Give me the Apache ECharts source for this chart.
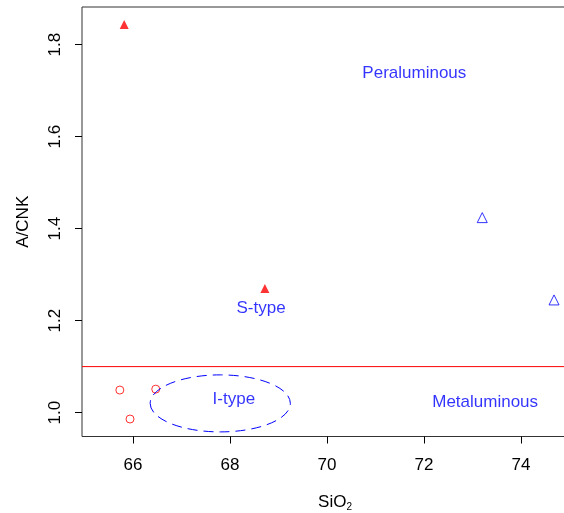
<!DOCTYPE html>
<html>
<head>
<meta charset="utf-8">
<script src="https://cdn.jsdelivr.net/npm/echarts@6/dist/echarts.min.js"></script>
<style>html,body{margin:0;padding:0;background:#fff}#c{width:564px;height:513px}</style>
</head>
<body>
<div id="c"></div>
<script>
// Data
var xTicks = [66, 68, 70, 72, 74];
var yTicks = [1.0, 1.2, 1.4, 1.6, 1.8];
var sTypeFilled = [[65.82, 1.844], [68.72, 1.27]];
var openTriangles = [[73.2, 1.424], [74.68, 1.245]];
var openCircles = [[65.73, 1.049], [66.47, 1.051], [65.94, 0.986]];
var boundaryAcnk = 1.1;
// ellipse: centerX, centerY, radiusX, radiusY
var iTypeEllipse = [[67.8, 1.02, 1.445, 0.062]];
var regionLabels = [
  {name: 'Peraluminous', value: [71.8, 1.738]},
  {name: 'Metaluminous', value: [73.26, 1.022]},
  {name: 'S-type', value: [68.64, 1.227]},
  {name: 'I-type', value: [68.08, 1.029]}
];

var X_MIN = 64.95, X_MAX = 75.38;
var FONT = 'Liberation Sans, Arial, sans-serif';
var chart = echarts.init(document.getElementById('c'), null, {renderer: 'canvas'});
chart.setOption({
  animation: false,
  backgroundColor: '#fff',
  grid: {left: 82, top: 7, bottom: 76.5, right: -24, outerBoundsMode: 'none', containLabel: false,
    show: true, borderColor: '#333', borderWidth: 1, backgroundColor: 'transparent'},
  xAxis: {
    type: 'value', min: X_MIN, max: X_MAX,
    name: 'SiO{sub|2}', nameLocation: 'middle', nameGap: 56,
    nameTextStyle: {fontFamily: FONT, fontSize: 17, color: '#000',
      rich: {sub: {fontFamily: FONT, fontSize: 10, color: '#000', padding: [10, 0, 0, 0]}}},
    axisLine: {show: false},
    splitLine: {show: false},
    axisTick: {show: true, inside: false, length: 7, lineStyle: {color: '#000'}, customValues: xTicks},
    axisLabel: {fontFamily: FONT, fontSize: 17, color: '#000', margin: 20, customValues: xTicks,
      formatter: function (v) { return String(v); }}
  },
  yAxis: {
    type: 'value', min: 0.948, max: 1.882,
    name: 'A/CNK', nameLocation: 'middle', nameGap: 50, nameRotate: 90,
    nameTextStyle: {fontFamily: FONT, fontSize: 17, color: '#000'},
    axisLine: {show: false},
    splitLine: {show: false},
    axisTick: {show: true, inside: false, length: 7, lineStyle: {color: '#000'}, customValues: yTicks},
    axisLabel: {fontFamily: FONT, fontSize: 17, color: '#000', margin: 18, rotate: 90, customValues: yTicks,
      formatter: function (v) { return v.toFixed(1); }}
  },
  series: [
    {
      type: 'line', data: [[X_MIN, boundaryAcnk], [X_MAX, boundaryAcnk]], silent: true,
      symbol: 'none', lineStyle: {color: '#ff0000', width: 1}, itemStyle: {color: '#ff0000'}
    },
    {
      type: 'custom', data: iTypeEllipse, silent: true, z: 3,
      renderItem: function (params, api) {
        var cx = api.value(0), cy = api.value(1), rx = api.value(2), ry = api.value(3);
        var c = api.coord([cx, cy]);
        var px = api.coord([cx + rx, cy]);
        var py = api.coord([cx, cy + ry]);
        var a = Math.abs(px[0] - c[0]), b = Math.abs(c[1] - py[1]);
        var d = 'M' + (c[0] - a) + ' ' + c[1] +
          ' A' + a + ' ' + b + ' 0 1 0 ' + (c[0] + a) + ' ' + c[1] +
          ' A' + a + ' ' + b + ' 0 1 0 ' + (c[0] - a) + ' ' + c[1] + ' Z';
        return {type: 'path', shape: {pathData: d},
          style: {fill: 'none', stroke: '#0000ff', lineWidth: 1, lineDash: [10, 6]}};
      }
    },
    {
      type: 'scatter', data: sTypeFilled, symbol: 'triangle', symbolSize: 9,
      itemStyle: {color: '#ff0000'}
    },
    {
      type: 'scatter', data: openTriangles, symbol: 'triangle', symbolSize: 10,
      itemStyle: {color: 'rgba(255,255,255,0)', borderColor: '#0000ff', borderWidth: 1}
    },
    {
      type: 'scatter', data: openCircles, symbol: 'circle', symbolSize: 8,
      itemStyle: {color: 'rgba(255,255,255,0)', borderColor: '#ff0000', borderWidth: 1}
    },
    {
      type: 'scatter', data: regionLabels, symbolSize: 1, silent: true,
      itemStyle: {color: 'rgba(255,255,255,0)'},
      label: {show: true, position: 'inside', formatter: '{b}',
        fontFamily: FONT, fontSize: 17, color: '#0000ff'}
    }
  ]
});
</script>
</body>
</html>
